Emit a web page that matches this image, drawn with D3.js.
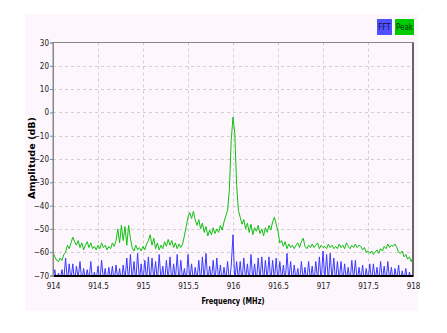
<!DOCTYPE html>
<html>
<head>
<meta charset="utf-8">
<script src="https://cdn.jsdelivr.net/npm/d3@7"></script>
<style>
  body { margin: 0; background: #fff; }
  svg { display: block; }
  .tick text { font-family: "DejaVu Sans Condensed", "DejaVu Sans", sans-serif; font-size: 8px; fill: #222; }
  .title { font-family: "DejaVu Sans Condensed", "DejaVu Sans", sans-serif; font-size: 9px; font-weight: bold; fill: #000; }
</style>
</head>
<body>
<svg id="chart"></svg>
<script>
// frequency axis (MHz), sample spacing of both traces
var freqStart = 914, freqEnd = 918, freqStep = 0.02;
var xTicks = [914, 914.5, 915, 915.5, 916, 916.5, 917, 917.5, 918];
var yTicks = [30, 20, 10, 0, -10, -20, -30, -40, -50, -60, -70];
var seriesNames = ["FFT", "Peak"];
var seriesColors = ["#5050ff", "#00cc00"];

// "Peak" trace (dB), one value per 0.02 MHz
var peakDb = [
  -60, -62, -63.5, -64, -62.5, -63.5, -61, -60, -57, -58.5,
  -56, -53.5, -55.5, -57, -55, -58, -56, -59, -57, -55.5,
  -58, -56, -58.5, -57.5, -59, -57, -58.5, -56, -58, -57,
  -59, -57.5, -58.5, -56, -57.5, -55, -50, -56, -48.5, -55,
  -49, -57, -48.5, -54, -58, -59.5, -57, -59, -58, -59.5,
  -57.5, -59, -56.5, -55, -52.5, -57, -54, -58.5, -56, -59,
  -57, -58.5, -55.5, -57.5, -54.5, -57, -55, -58, -56, -58.5,
  -56.5, -58, -56.5, -53, -49, -45, -43, -45.5, -42.5, -46,
  -48.5, -46, -50, -47.5, -51.5, -49, -53, -50.5, -52.5, -49.5,
  -52, -50, -51.5, -48.5, -50.5, -47, -44.5, -42, -33, -12,
  -2, -9, -31, -42, -45, -48, -46, -50, -47.5, -51.5,
  -48, -52.5, -49.5, -51, -48.5, -52, -50, -53, -49.5, -51.5,
  -48.5, -50.5, -47, -45, -48, -51, -56, -55, -57.5, -55.5,
  -58.5, -56.5, -58, -57, -58.5, -57, -56, -58, -55.5, -54,
  -57.5, -58.5, -57, -58, -56.5, -58, -57, -56, -58.5, -57,
  -58, -57.5, -58.5, -56.5, -58, -57, -58.5, -57.5, -58.5, -56.5,
  -58, -57, -58.5, -56, -57.5, -58.5, -57, -58, -56.5, -58,
  -57, -57.5, -59, -58, -60, -59.5, -60.5, -59.5, -61, -60,
  -59, -60.5, -58.5, -59.5, -57.5, -58.5, -56.5, -58, -57, -57.5,
  -56.5, -58, -60, -60.5, -59.5, -62, -61, -63, -62, -64,
  -62
];

// "FFT" trace (dB), one value per 0.02 MHz; values below -70 fall off the plot
var fftDb = [
  -72, -67.5, -73, -69, -72, -67.5, -72, -62.5, -73, -65,
  -72, -65, -73, -66, -71, -64, -73, -67, -72, -67.5,
  -72, -64, -73, -68.5, -72, -66, -73, -63.5, -72, -67,
  -73, -66.5, -72, -66, -73, -65.5, -72, -67, -73, -65.5,
  -72, -62.5, -73, -61, -72, -64, -73, -60.5, -72, -65,
  -73, -63.5, -72, -62, -73, -62.5, -72, -64, -73, -61,
  -72, -66, -73, -63.5, -72, -62, -73, -65, -72, -61,
  -73, -63.5, -72, -67, -73, -61, -72, -65, -73, -66.5,
  -72, -63.5, -73, -62, -72, -60.5, -73, -66, -72, -63.5,
  -73, -62.5, -72, -65.5, -73, -66.5, -72, -64, -73, -66,
  -52.5, -73, -64, -72, -64, -73, -62.5, -72, -65, -73,
  -61, -72, -65, -73, -62.5, -72, -62, -73, -63.5, -72,
  -62, -73, -63.5, -72, -62.5, -73, -64, -72, -65.5, -73,
  -60.5, -72, -64, -73, -65.5, -72, -67, -73, -64, -72,
  -66.5, -73, -64, -72, -66, -73, -64, -72, -62, -73,
  -59.5, -72, -61, -73, -60.5, -72, -62.5, -73, -64, -72,
  -64, -73, -65, -72, -66.5, -73, -63.5, -72, -63.5, -73,
  -66.5, -72, -65.5, -73, -67, -72, -65, -73, -65, -72,
  -66.5, -73, -64, -72, -66, -73, -64, -72, -66.5, -73,
  -67, -72, -65.5, -73, -68, -72, -67, -73, -68.5, -72,
  -69
];

var width = 447, height = 333;
var plot = { left: 53, right: 413, top: 42.5, bottom: 275.5 };

var svg = d3.select("#chart")
    .attr("width", width)
    .attr("height", height);

// figure panel
svg.append("rect")
    .attr("x", 25).attr("y", 14)
    .attr("width", 393).attr("height", 297)
    .attr("fill", "#fdf6fd");

var x = d3.scaleLinear()
    .domain([freqStart, freqEnd])
    .range([plot.left, plot.right]);

var y = d3.scaleLinear()
    .domain([-70, 30])
    .range([plot.bottom, plot.top]);

// grid
var grid = svg.append("g").attr("class", "grid");
grid.selectAll("line.v")
    .data(xTicks.slice(1, -1))
  .enter().append("line")
    .attr("class", "v")
    .attr("x1", function(d) { return Math.round(x(d)) + 0.5; })
    .attr("x2", function(d) { return Math.round(x(d)) + 0.5; })
    .attr("y1", plot.top).attr("y2", plot.bottom)
    .attr("stroke", "#cfcfcf")
    .attr("stroke-dasharray", "3,3");
grid.selectAll("line.h")
    .data(yTicks.slice(1, -1))
  .enter().append("line")
    .attr("class", "h")
    .attr("y1", function(d) { return Math.round(y(d)) + 0.5; })
    .attr("y2", function(d) { return Math.round(y(d)) + 0.5; })
    .attr("x1", plot.left).attr("x2", plot.right)
    .attr("stroke", "#cfcfcf")
    .attr("stroke-dasharray", "3,3");

svg.append("clipPath").attr("id", "clip")
  .append("rect")
    .attr("x", plot.left).attr("y", plot.top)
    .attr("width", plot.right - plot.left)
    .attr("height", plot.bottom - plot.top);

var line = d3.line()
    .x(function(d, i) { return x(freqStart + i * freqStep); })
    .y(function(d) { return y(d); });

svg.append("path")
    .datum(fftDb)
    .attr("clip-path", "url(#clip)")
    .attr("fill", "none")
    .attr("stroke", "#3a3aff")
    .attr("stroke-width", 1)
    .attr("d", line);

svg.append("path")
    .datum(peakDb)
    .attr("clip-path", "url(#clip)")
    .attr("fill", "none")
    .attr("stroke", "#10c010")
    .attr("stroke-width", 1)
    .attr("d", line);

// frame
svg.append("rect")
    .attr("x", plot.left).attr("y", plot.top)
    .attr("width", plot.right - plot.left)
    .attr("height", plot.bottom - plot.top)
    .attr("fill", "none")
    .attr("stroke", "#888");
svg.append("line")
    .attr("x1", plot.right).attr("x2", plot.right)
    .attr("y1", plot.top).attr("y2", plot.bottom)
    .attr("stroke", "#666").attr("stroke-width", 2);

// axes
var xAxis = d3.axisBottom(x)
    .tickValues(xTicks)
    .tickSize(0)
    .tickPadding(8)
    .tickFormat(d3.format(""));

var yAxis = d3.axisLeft(y)
    .tickValues(yTicks)
    .tickSize(3)
    .tickPadding(1)
    .tickFormat(d3.format(""));

var gx = svg.append("g")
    .attr("transform", "translate(0," + plot.bottom + ")")
    .call(xAxis);
gx.select(".domain").attr("stroke", "#000").attr("stroke-width", 2);

var gy = svg.append("g")
    .attr("transform", "translate(" + plot.left + ",0)")
    .call(yAxis);
gy.select(".domain").attr("stroke", "#888");
gy.selectAll(".tick line").attr("stroke", "#888");

svg.append("text")
    .attr("class", "title")
    .attr("x", 233).attr("y", 304)
    .attr("text-anchor", "middle")
    .attr("textLength", 63)
    .attr("lengthAdjust", "spacingAndGlyphs")
    .text("Frequency (MHz)");

svg.append("text")
    .attr("class", "title")
    .attr("transform", "translate(35,158) rotate(-90)")
    .attr("text-anchor", "middle")
    .attr("textLength", 82)
    .attr("lengthAdjust", "spacingAndGlyphs")
    .text("Amplitude (dB)");

// legend
var legendX = [377, 395], legendW = [15, 19];
var legend = svg.append("g").attr("class", "legend");
seriesNames.forEach(function(name, i) {
  legend.append("rect")
      .attr("x", legendX[i]).attr("y", 19)
      .attr("width", legendW[i]).attr("height", 16)
      .attr("fill", seriesColors[i]);
  legend.append("text")
      .attr("x", legendX[i] + legendW[i] / 2).attr("y", 30)
      .attr("text-anchor", "middle")
      .attr("font-family", "DejaVu Sans Condensed, DejaVu Sans, sans-serif")
      .attr("font-size", 8)
      .attr("fill", i === 0 ? "#101040" : "#003300")
      .text(name);
});
</script>
</body>
</html>
